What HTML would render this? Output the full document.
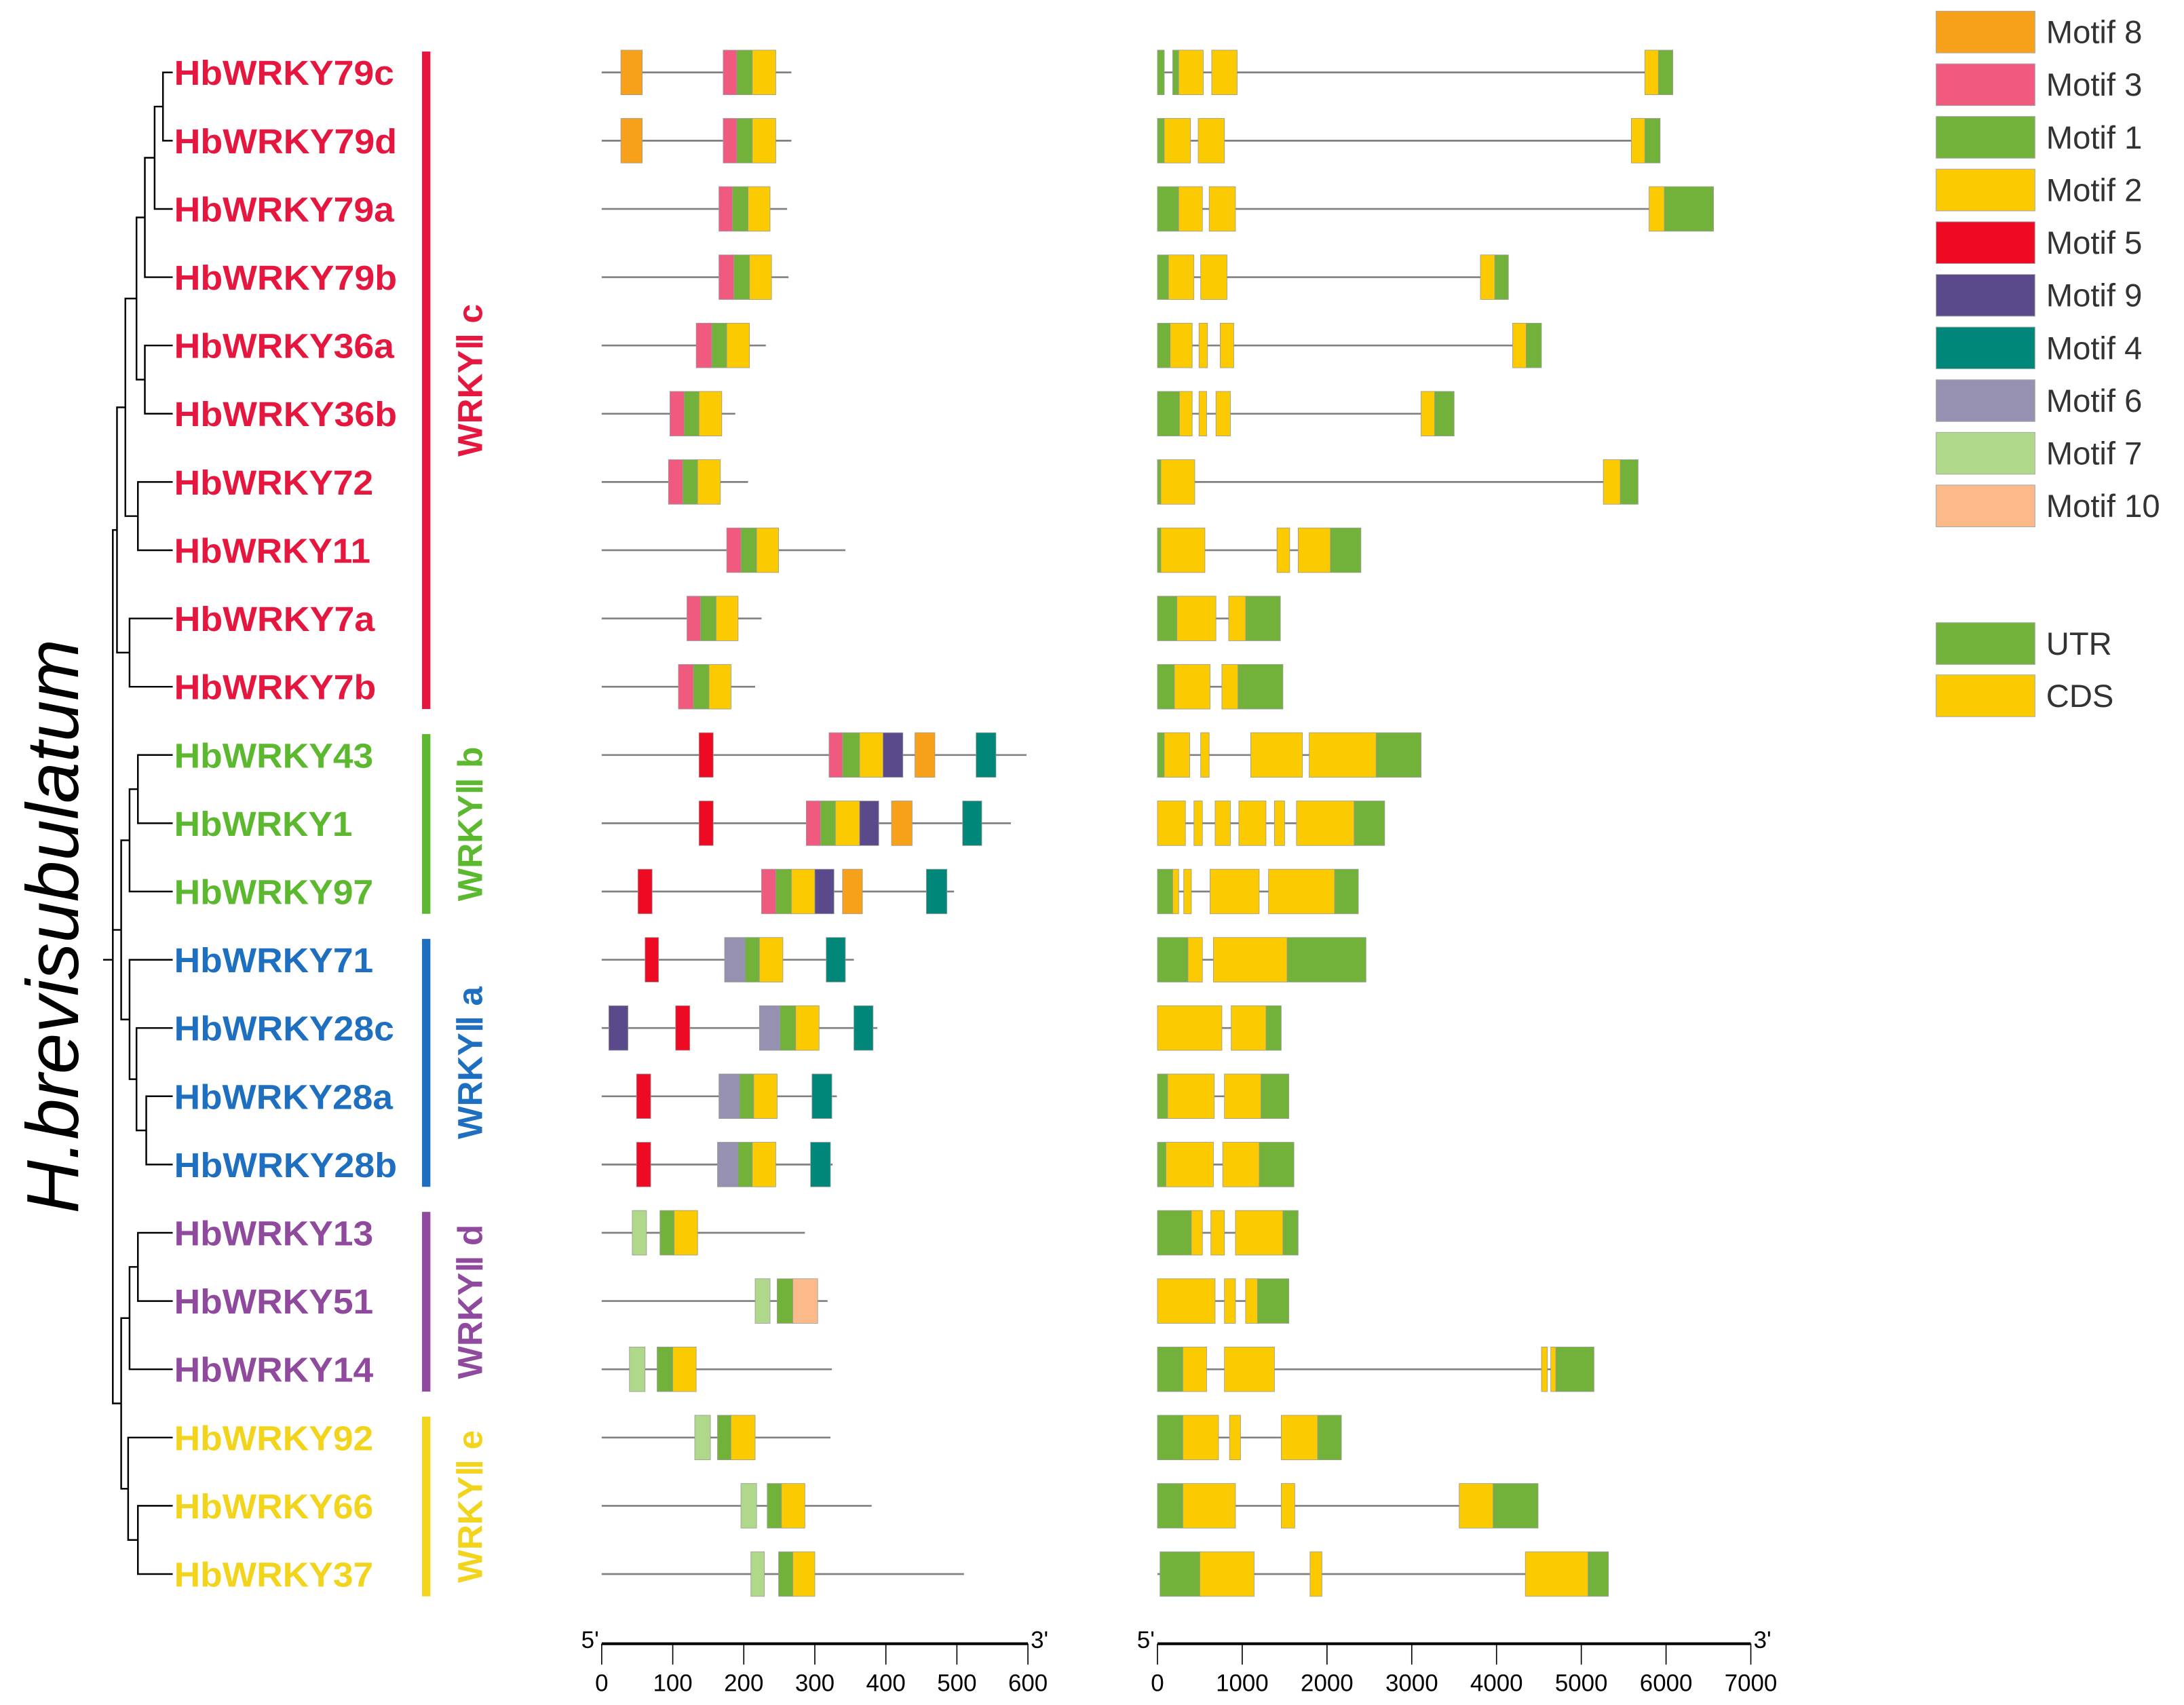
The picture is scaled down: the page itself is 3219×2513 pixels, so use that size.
<!DOCTYPE html>
<html><head><meta charset="utf-8">
<style>
html,body{margin:0;padding:0;background:#fff;}
svg{display:block;}
text{font-family:"Liberation Sans",Arial,sans-serif;}
</style></head>
<body>
<svg id="fig" xmlns="http://www.w3.org/2000/svg" width="3219" height="2513" viewBox="0 0 1568 1224" preserveAspectRatio="none">
<text transform="translate(56,665) rotate(-90)" text-anchor="middle" font-size="53" font-style="italic" fill="#000">H.brevisubulatum</text>
<g id="tree" stroke="#000" stroke-width="1.2" fill="none"></g>
<g id="labels"></g>
<g id="clades"></g>
<g id="motifs"></g>
<g id="genes"></g>
<g id="axes"></g>
<g id="legend"></g>
</svg>
<script>
const genes = ["HbWRKY79c","HbWRKY79d","HbWRKY79a","HbWRKY79b","HbWRKY36a","HbWRKY36b","HbWRKY72","HbWRKY11","HbWRKY7a","HbWRKY7b","HbWRKY43","HbWRKY1","HbWRKY97","HbWRKY71","HbWRKY28c","HbWRKY28a","HbWRKY28b","HbWRKY13","HbWRKY51","HbWRKY14","HbWRKY92","HbWRKY66","HbWRKY37"];
const labelEnd = [283,285,283,285,283,285,268,266,269,270,268,253,268,268,283,282,285,268,268,268,268,268,268];
const geneClade = [0,0,0,0,0,0,0,0,0,0,1,1,1,2,2,2,2,3,3,3,4,4,4];
const cladeNames = ["WRKYⅡ c","WRKYⅡ b","WRKYⅡ a","WRKYⅡ d","WRKYⅡ e"];
const cladeColors = ["#e5173f","#5cb82e","#1f6fc0","#8f4a9e","#f2d41c"];
const motifNames = ["Motif 8","Motif 3","Motif 1","Motif 2","Motif 5","Motif 9","Motif 4","Motif 6","Motif 7","Motif 10"];
const motifColors = ["#f7a11a","#f05a7e","#72b23b","#fcca00","#ed0a22","#5b4a8b","#00877a","#9691b0","#b0d88a","#fcb98a"];
const proteinLength = [267,267,261,263,231,188,206,343,225,216,598,576,496,355,388,331,325,286,318,324,322,380,510];
// [motif index into motifNames, start aa, end aa]
const motifHits = [
 [[0,27,57],[1,171,190],[2,190,212],[3,212,245]],
 [[0,27,57],[1,171,190],[2,190,212],[3,212,245]],
 [[1,165,184],[2,184,206],[3,206,237]],
 [[1,165,186],[2,186,208],[3,208,239]],
 [[1,133,155],[2,155,176],[3,176,208]],
 [[1,96,116],[2,116,137],[3,137,169]],
 [[1,94,114],[2,114,135],[3,135,167]],
 [[1,176,196],[2,196,218],[3,218,249]],
 [[1,120,139],[2,139,161],[3,161,192]],
 [[1,108,129],[2,129,151],[3,151,182]],
 [[4,137,157],[1,320,339],[2,339,363],[3,363,396],[5,396,424],[0,441,469],[6,527,555]],
 [[4,137,157],[1,288,308],[2,308,329],[3,329,363],[5,363,390],[0,408,437],[6,508,535]],
 [[4,51,71],[1,225,245],[2,245,267],[3,267,300],[5,300,327],[0,339,367],[6,457,486]],
 [[4,61,80],[7,173,202],[2,202,222],[3,222,255],[6,316,343]],
 [[5,10,37],[4,104,124],[7,222,251],[2,251,273],[3,273,306],[6,355,382]],
 [[4,49,69],[7,165,194],[2,194,214],[3,214,247],[6,296,324]],
 [[4,49,69],[7,163,192],[2,192,212],[3,212,245],[6,294,322]],
 [[8,43,63],[2,82,102],[3,102,135]],
 [[8,216,237],[2,247,269],[9,269,304]],
 [[8,39,61],[2,78,100],[3,100,133]],
 [[8,131,153],[2,163,182],[3,182,216]],
 [[8,196,218],[2,233,253],[3,253,286]],
 [[8,210,229],[2,249,269],[3,269,300]]
];
const geneLength = [6080,5930,6560,4140,4530,3500,5670,2400,1450,1480,3110,2680,2370,2460,1460,1550,1610,1660,1550,5150,2170,4490,5320];
// [type 0=UTR 1=CDS, start bp, end bp]
const geneFeatures = [
 [[0,0,80],[0,180,250],[1,250,540],[1,640,940],[1,5750,5910],[0,5910,6080]],
 [[0,0,80],[1,80,390],[1,480,790],[1,5590,5750],[0,5750,5930]],
 [[0,0,250],[1,250,530],[1,610,920],[1,5800,5980],[0,5980,6560]],
 [[0,0,130],[1,130,430],[1,510,820],[1,3810,3980],[0,3980,4140]],
 [[0,0,150],[1,150,410],[1,490,590],[1,740,900],[1,4190,4350],[0,4350,4530]],
 [[0,0,260],[1,260,410],[1,490,580],[1,690,860],[1,3110,3270],[0,3270,3500]],
 [[0,0,40],[1,40,440],[1,5260,5460],[0,5460,5670]],
 [[0,0,40],[1,40,560],[1,1410,1560],[1,1660,2040],[0,2040,2400]],
 [[0,0,230],[1,230,690],[1,840,1040],[0,1040,1450]],
 [[0,0,200],[1,200,620],[1,760,950],[0,950,1480]],
 [[0,0,80],[1,80,380],[1,510,610],[1,1100,1710],[1,1790,2580],[0,2580,3110]],
 [[1,0,330],[1,430,530],[1,680,860],[1,960,1280],[1,1380,1500],[1,1640,2320],[0,2320,2680]],
 [[0,0,180],[1,180,250],[1,310,400],[1,620,1200],[1,1310,2090],[0,2090,2370]],
 [[0,0,360],[1,360,530],[1,660,1530],[0,1530,2460]],
 [[1,0,760],[1,870,1280],[0,1280,1460]],
 [[0,0,120],[1,120,670],[1,790,1220],[0,1220,1550]],
 [[0,0,100],[1,100,660],[1,770,1200],[0,1200,1610]],
 [[0,0,400],[1,400,530],[1,630,790],[1,920,1480],[0,1480,1660]],
 [[1,0,680],[1,790,920],[1,1040,1180],[0,1180,1550]],
 [[0,0,300],[1,300,580],[1,790,1380],[1,4530,4600],[1,4640,4700],[0,4700,5150]],
 [[0,0,300],[1,300,720],[1,850,980],[1,1460,1890],[0,1890,2170]],
 [[0,0,300],[1,300,920],[1,1460,1620],[1,3560,3960],[0,3960,4490]],
 [[0,30,500],[1,500,1140],[1,1800,1940],[1,4340,5080],[0,5080,5320]]
];
const aaTicks = [0,100,200,300,400,500,600];
const bpTicks = [0,1000,2000,3000,4000,5000,6000,7000];
const structNames = ["UTR","CDS"];
const structColors = ["#72b23b","#fcca00"];

const NS="http://www.w3.org/2000/svg";
function mk(tag, attrs, parent){const e=document.createElementNS(NS,tag);for(const k in attrs)e.setAttribute(k,attrs[k]);parent.appendChild(e);return e;}
const rowY = i => 52 + i*49;
const xAA = v => 432 + v*(738-432)/600;
const xBP = v => 831 + v*(1257-831)/7000;
const BH = 16;

// labels
const gl=document.getElementById('labels');
genes.forEach((g,i)=>{
  const t=mk('text',{x:125,y:rowY(i)+9,'font-size':25,'font-weight':'bold',fill:cladeColors[geneClade[i]],textLength:labelEnd[i]-125,lengthAdjust:'spacingAndGlyphs'},gl);
  
  
  t.textContent=g;
});
// clade bars
const cg=document.getElementById('clades');
cladeNames.forEach((n,c)=>{
  const idx=geneClade.map((v,i)=>v===c?i:-1).filter(v=>v>=0);
  const y0=rowY(idx[0])-15, y1=rowY(idx[idx.length-1])+16;
  const r=mk('rect',{x:303,y:y0,width:6,height:y1-y0,fill:cladeColors[c]},cg);
  
  
  const t=mk('text',{transform:`translate(346,${(y0+y1)/2}) rotate(-90)`,'text-anchor':'middle','font-size':25,'font-weight':'bold',fill:cladeColors[c]},cg);
  
  
  t.textContent=n;
});
// tree
const tr=document.getElementById('tree');
function node(a,b,x){
  const p=mk('path',{d:`M${a.x},${a.y}H${x}V${b.y}H${b.x}`},tr);
  
  
  return {x:x,y:(a.y+b.y)/2};
}
const L=i=>({x:124,y:rowY(i)});
let n79=node(L(0),L(1),117); n79=node(n79,L(2),111); n79=node(n79,L(3),104);
let n36=node(L(4),L(5),104);
let nA=node(n79,n36,98);
let n72=node(L(6),L(7),99);
nA=node(nA,n72,90);
let n7=node(L(8),L(9),93);
let nC=node(nA,n7,84);
let nB=node(L(10),L(11),99); nB=node(nB,L(12),93);
let n28=node(L(15),L(16),105); n28=node(L(14),n28,98); n28=node(L(13),n28,93);
let nBA=node(nB,n28,87);
let nD=node(L(17),L(18),99); nD=node(nD,L(19),93);
let nE=node(L(21),L(22),99); nE=node(L(20),nE,92);
let nDE=node(nD,nE,87);
let nUp=node(nC,nBA,81);
let nRoot=node(nUp,nDE,81);
mk('path',{d:'M74,689H81'},tr);

// motif panel
const mg=document.getElementById('motifs');
genes.forEach((g,i)=>{
  const y=rowY(i);
  const l=mk('line',{x1:xAA(0),x2:xAA(proteinLength[i]),y1:y,y2:y,stroke:'#808080','stroke-width':1.3},mg);
  
  
  motifHits[i].forEach(h=>{
    const r=mk('rect',{x:xAA(h[1]),y:y-BH,width:xAA(h[2])-xAA(h[1]),height:2*BH,fill:motifColors[h[0]],stroke:'#999','stroke-width':0.4},mg);
    
    
  });
});
// gene structure
const sg=document.getElementById('genes');
genes.forEach((g,i)=>{
  const y=rowY(i);
  const l=mk('line',{x1:xBP(0),x2:xBP(geneLength[i]),y1:y,y2:y,stroke:'#808080','stroke-width':1.3},sg);
  
  
  geneFeatures[i].forEach(f=>{
    const r=mk('rect',{x:xBP(f[1]),y:y-BH,width:Math.max(1,xBP(f[2])-xBP(f[1])),height:2*BH,fill:structColors[f[0]],stroke:'#999','stroke-width':0.4},sg);
    
    
  });
});
// axes
const ag=document.getElementById('axes');
function axis(fn,ticks,name){
  const x0=fn(ticks[0]), x1=fn(ticks[ticks.length-1]);
  const l=mk('line',{x1:x0,x2:x1,y1:1180,y2:1180,stroke:'#000','stroke-width':2},ag);
  
  
  ticks.forEach(v=>{
    const t=mk('line',{x1:fn(v),x2:fn(v),y1:1180,y2:1195,stroke:'#000','stroke-width':0.8},ag);
    
    
    const tx=mk('text',{x:fn(v),y:1214,'text-anchor':'middle','font-size':17,fill:'#000'},ag);
    
    
    tx.textContent=v;
  });
  const a=mk('text',{x:x0-2,y:1183,'text-anchor':'end','font-size':17},ag);
  
  
  a.textContent="5'";
  const b=mk('text',{x:x1+2,y:1183,'font-size':17},ag);
  
  
  b.textContent="3'";
}
axis(xAA,aaTicks,'protein');
axis(xBP,bpTicks,'gene');
// legend
const lg=document.getElementById('legend');
function legItem(y,color,label){
  const r=mk('rect',{x:1390,y:y-15,width:71,height:30,fill:color,stroke:'#aaa','stroke-width':0.5},lg);
  
  
  const t=mk('text',{x:1469,y:y+8,'font-size':23,fill:'#333'},lg);
  
  
  t.textContent=label;
}
motifNames.forEach((n,k)=>legItem(23+k*37.8,motifColors[k],n));
structNames.forEach((n,k)=>legItem(462+k*37.5,structColors[k],n));
</script>
</body></html>
